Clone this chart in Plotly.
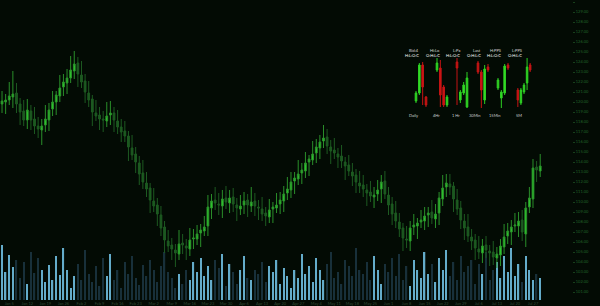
import plotly.graph_objects as go

# ---------------- main series ----------------
opens = [119.8,120.0,120.2,120.5,120.9,119.8,119.1,118.2,119.1,118.3,
117.6,117.2,117.7,118.2,119.3,120.0,120.6,121.5,121.9,122.4,
123.1,123.9,122.7,122.1,120.9,120.3,118.9,118.7,118.3,118.1,
118.7,118.9,118.1,117.5,117.1,116.6,115.4,114.8,113.9,112.9,
111.9,111.4,110.1,109.7,108.7,107.5,106.1,105.7,105.2,104.8,
105.9,105.6,105.3,106.3,106.3,106.9,107.1,107.6,109.4,110.2,
109.8,109.6,110.4,109.9,110.5,109.7,109.3,109.7,110.2,109.6,
110.1,109.5,109.3,108.9,108.5,109.3,109.4,109.8,110.1,110.9,
111.2,112.1,112.3,112.9,113.1,114.0,114.2,114.9,115.4,116.1,
116.5,115.5,115.2,114.8,114.6,114.0,113.7,113.0,112.7,111.9,
111.7,111.2,111.0,110.5,110.8,111.3,112.1,110.7,109.8,108.9,
108.0,107.4,106.3,106.1,107.5,107.6,108.0,108.1,108.7,109.0,
108.3,108.9,110.3,111.5,111.8,111.6,110.2,109.4,108.1,107.5,
106.5,106.2,105.3,104.9,105.7,105.1,105.0,104.4,104.7,105.5,
106.6,107.0,107.6,107.6,108.2,106.8,109.5,110.3,113.5,113.1]

closes = [120.1,120.2,120.6,120.8,119.8,119.0,118.2,119.2,118.2,117.6,
117.3,117.6,118.3,119.2,120.0,120.7,121.4,122.0,122.4,123.2,
123.8,122.8,122.0,121.0,120.2,119.0,118.6,118.3,118.2,118.6,
118.9,118.2,117.5,117.0,116.6,115.5,114.7,114.0,112.8,112.0,
111.3,110.2,109.6,108.8,107.4,106.2,105.6,105.3,104.9,105.8,
105.7,105.4,106.2,106.4,106.8,107.2,107.5,109.5,110.1,109.9,
109.7,110.3,110.0,110.4,109.8,109.4,109.6,110.1,109.7,110.0,
109.6,109.4,108.8,108.6,109.2,109.5,109.7,110.2,110.8,111.3,
112.0,112.4,112.8,113.2,113.9,114.3,114.8,115.5,116.0,116.4,
115.6,115.1,114.9,114.5,114.1,113.6,113.1,112.6,112.0,111.6,
111.3,110.9,110.6,110.7,111.2,112.0,110.8,109.7,108.8,108.1,
107.3,106.4,106.2,107.4,107.7,107.9,108.2,108.6,108.9,108.4,
108.8,110.4,111.4,111.9,111.5,110.3,109.3,108.2,107.4,106.6,
106.1,105.4,105.0,105.6,105.2,104.9,104.5,104.8,105.6,106.5,
107.1,107.5,107.7,108.1,107.0,109.4,110.4,113.4,113.2,113.6]

highs = [121.1,120.8,122.0,123.1,121.9,120.4,120.2,120.3,119.7,119.5,
118.5,118.3,119.7,119.9,121.1,121.1,122.7,122.8,123.3,124.6,
125.1,124.5,124.1,122.8,122.1,120.7,120.2,119.5,119.1,120.0,
120.1,119.5,119.2,118.3,118.1,117.1,116.7,115.5,114.6,114.2,
113.0,111.9,111.4,110.4,109.6,108.1,107.2,106.4,105.8,107.2,
106.8,106.3,107.4,107.3,107.7,107.8,108.6,110.7,110.8,111.5,
110.9,111.2,111.6,111.2,111.4,110.4,110.7,111.0,110.8,111.5,
110.9,110.2,110.5,109.5,110.3,110.0,110.9,111.0,111.6,112.5,
113.0,113.0,114.2,113.9,115.0,114.7,116.1,116.3,116.7,117.7,
117.3,116.2,116.4,115.4,115.7,114.5,114.7,113.9,113.3,113.1,
112.7,111.8,112.1,111.5,112.2,112.7,113.1,111.5,110.5,110.1,
108.9,107.9,107.6,108.1,108.8,108.4,109.2,109.5,109.5,110.2,
109.8,111.0,112.7,112.8,112.8,112.0,111.3,110.1,108.8,108.8,
107.3,106.8,106.6,106.3,106.6,105.7,106.1,105.5,106.3,107.8,
107.9,108.2,108.9,109.0,109.2,110.0,111.5,114.3,114.1,114.8]

lows = [118.9,118.8,119.7,119.4,118.9,117.7,117.6,117.3,117.2,116.8,
116.4,115.7,117.0,117.1,118.6,118.7,120.0,120.6,120.8,121.9,
122.3,121.5,121.4,119.9,119.5,117.6,118.1,117.2,117.0,117.5,
117.7,117.0,116.8,116.0,116.0,114.1,114.2,112.9,111.7,111.3,
110.5,108.9,109.0,107.6,106.6,104.9,105.0,104.2,103.5,104.2,
104.8,104.2,104.6,105.3,105.7,105.5,106.6,106.6,108.3,109.2,
108.7,108.4,109.3,108.9,109.0,108.1,108.7,108.8,108.5,109.0,
108.6,108.2,108.1,107.6,107.9,107.9,108.9,108.8,109.0,110.2,
110.4,110.8,111.7,111.8,112.4,112.6,113.7,113.9,114.3,115.4,
114.8,113.8,114.3,113.4,113.4,112.2,112.6,111.6,110.9,110.9,
110.5,109.6,110.0,109.4,110.1,109.9,110.3,108.7,107.7,107.4,
106.5,105.1,105.4,105.1,106.7,106.3,107.4,107.2,107.5,107.8,
107.4,107.7,109.6,110.5,110.7,109.0,108.7,107.3,106.2,106.0,
105.2,104.2,104.3,103.9,104.4,103.6,103.7,103.4,103.6,104.8,
105.8,105.7,107.0,106.5,106.1,105.5,108.9,109.4,112.0,112.5]

volumes = [55,28,45,33,40,22,38,16,48,27,
42,30,18,35,20,44,25,52,30,12,
24,36,20,50,26,18,34,14,42,24,
46,20,30,12,38,26,44,22,15,35,
24,40,30,18,34,48,28,22,12,26,
16,30,20,38,28,42,24,34,20,40,
32,46,14,36,28,16,30,44,22,20,
30,26,38,18,34,28,40,16,32,24,
12,30,22,46,26,34,18,42,30,20,
36,48,22,28,16,40,34,24,52,30,
26,38,20,44,30,16,36,28,42,24,
46,20,34,14,40,30,22,48,26,36,
18,42,30,50,24,38,20,44,28,34,
40,16,36,26,48,20,30,38,22,44,
28,52,24,36,18,44,30,20,26,22]

bar_index = list(range(len(closes)))

x_tick_pos = list(range(2, 150, 5))
x_tick_labels = ["Jan 5","Jan 12","Jan 19","Jan 26","Feb 2","Feb 9","Feb 16","Feb 23",
                 "Mar 2","Mar 9","Mar 16","Mar 23","Mar 30","Apr 6","Apr 13","Apr 20",
                 "Apr 27","May 4","May 11","May 18","May 25","Jun 1","Jun 8","Jun 15",
                 "Jun 22","Jun 29","Jul 6","Jul 13","Jul 20","Jul 27"]

price_ticks = list(range(101, 131))

# ---------------- inset (multi-timeframe) ----------------
inset_names = ["Daily", "4Hr", "1 Hr", "30Min", "15Min", "5M"]
inset_title1 = ["Bid:4", "Hi:Lo", "L:Px", "Last", "H:PPS", "L:PPS"]
inset_title2 = ["H:L:O:C", "O:H:L:C", "H:L:O:C", "O:H:L:C", "H:L:O:C", "O:H:L:C"]
inset_open  = [[11,19,47,15],[42,44,25,7],[50,12,19,5],[49,40,12,45],[24,14,19,47],[22,9,20,29,47]]
inset_close = [[19,47,25,7],[49,17,7,15],[44,20,27,34],[40,22,43,42],[32,20,46,44],[12,22,27,45,42]]
inset_high  = [[21,49,50,16],[54,52,27,17],[54,22,30,40],[51,42,47,48],[34,22,48,49],[24,24,29,54,49]]
inset_low   = [[9,17,7,5],[40,5,5,5],[7,9,17,4],[38,4,8,40],[22,4,17,42],[5,7,18,22,40]]

# ---------------- styling ----------------
BG = "#030b04"
UP_FILL, UP_LINE = "#2fd32f", "#2a8f2a"
DN_FILL, DN_LINE = "#1d5a21", "#1d5a21"
VOL_UP, VOL_DN = "#64acca", "#18303a"
AX_TXT = "#21652a"

vol_colors = [VOL_UP if c >= o else VOL_DN for o, c in zip(opens, closes)]

fig = go.Figure()

fig.add_trace(go.Bar(
    x=bar_index, y=volumes, marker=dict(color=vol_colors, line=dict(width=0)),
    width=0.36, xaxis="x", yaxis="y", hoverinfo="skip"))

fig.add_trace(go.Candlestick(
    x=bar_index, open=opens, high=highs, low=lows, close=closes,
    increasing=dict(line=dict(color=UP_LINE, width=1), fillcolor=UP_FILL),
    decreasing=dict(line=dict(color=DN_LINE, width=1), fillcolor=DN_FILL),
    whiskerwidth=0, xaxis="x", yaxis="y2"))

PLOT_W, PLOT_H = 572.0, 300.0
centers = [421, 442, 462, 483, 503, 524]
annotations = []
layout_axes = {}
for k in range(6):
    n = k + 3
    fig.add_trace(go.Candlestick(
        x=list(range(len(inset_open[k]))),
        open=inset_open[k], high=inset_high[k], low=inset_low[k], close=inset_close[k],
        increasing=dict(line=dict(color="#2ccf22", width=1), fillcolor="#3be02a"),
        decreasing=dict(line=dict(color="#c41414", width=1), fillcolor="#d01616"),
        whiskerwidth=0, xaxis=f"x{n}", yaxis=f"y{n}"))
    c = centers[k]
    half = 7 if len(inset_open[k]) == 4 else 8
    layout_axes[f"xaxis{n}"] = dict(domain=[(c - half) / PLOT_W, (c + half) / PLOT_W],
                                    range=[-0.6, len(inset_open[k]) - 0.4],
                                    visible=False, rangeslider=dict(visible=False),
                                    anchor=f"y{n}", fixedrange=True)
    layout_axes[f"yaxis{n}"] = dict(domain=[1 - 112 / PLOT_H, 1 - 52 / PLOT_H],
                                    range=[0, 60], visible=False, anchor=f"x{n}")
    xp = c / PLOT_W
    annotations.append(dict(x=xp, y=1 - 46 / PLOT_H, xref="paper", yref="paper",
                            text=inset_title1[k], showarrow=False,
                            font=dict(size=4, color="#d8d8d8", family="Lato")))
    annotations.append(dict(x=xp, y=1 - 50.5 / PLOT_H, xref="paper", yref="paper",
                            text=inset_title2[k], showarrow=False,
                            font=dict(size=4, color="#ffffff", family="Lato")))
    annotations.append(dict(x=xp, y=1 - 115.5 / PLOT_H, xref="paper", yref="paper",
                            text=inset_names[k], showarrow=False,
                            font=dict(size=4, color="#d0d0d0", family="Lato")))

fig.update_layout(
    width=600, height=306,
    margin=dict(l=0, r=28, t=0, b=6),
    paper_bgcolor=BG, plot_bgcolor=BG,
    showlegend=False,
    annotations=annotations,
    xaxis=dict(range=[-0.56, 157.8], tickvals=x_tick_pos, ticktext=x_tick_labels,
               tickfont=dict(size=4, color="#2f4a34", family="Lato"),
               showgrid=False, zeroline=False, showline=False, ticks="",
               rangeslider=dict(visible=False), domain=[0, 1]),
    yaxis=dict(range=[0, 300], visible=False, showgrid=False),
    yaxis2=dict(overlaying="y", side="right", range=[100.2, 130.2],
                tickvals=price_ticks, tickformat=".2f",
                tickfont=dict(size=4, color=AX_TXT, family="Lato"),
                ticks="outside", ticklen=2, tickcolor="#173f1a",
                showgrid=False, zeroline=False, showline=False),
    **layout_axes,
)

fig.write_html("out.html")
